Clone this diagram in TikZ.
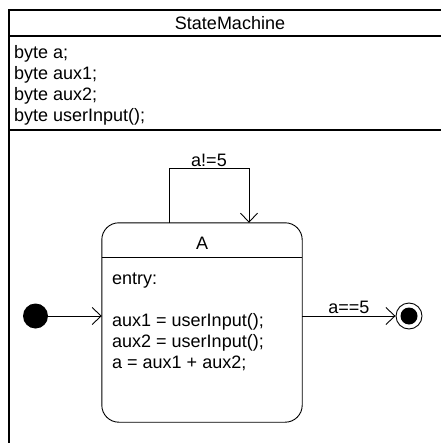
\documentclass[tikz,border=0pt]{standalone}
\usepackage{fontspec}
\setmainfont{Liberation Sans}
\usetikzlibrary{arrows.meta}

\begin{document}
\begin{tikzpicture}[x=1pt,y=-1pt,
  every node/.style={font=\fontsize{18}{21}\selectfont},
  trans/.style={-{Straight Barb[length=9pt,width=17pt]},line width=0.9pt},
  statebox/.style={inner sep=0pt,minimum width=200pt,minimum height=199pt},
  initial/.style={circle,fill,inner sep=0pt,minimum size=25pt},
  final/.style={circle,draw,line width=0.9pt,inner sep=0pt,minimum size=26pt},
  plain/.style={inner sep=0pt,align=left,anchor=north west}]
\useasboundingbox (0,0) rectangle (440,443);
% class frame
\draw[line width=2.2pt] (9,470) -- (9,10) -- (460,10);
\draw[line width=1.3pt] (9,36) -- (460,36);
\draw[line width=1.3pt] (9,130) -- (460,130);
\node (title) at (230,23) {StateMachine};
\node[plain] (attrs) at (14,45) {byte a;\\byte aux1;\\byte aux2;\\byte userInput();};
% states
\node[statebox] (A) at (202,322.5) {};
\draw[line width=0.9pt,rounded corners=17pt] (A.north west) rectangle (A.south east);
\node (Aname) at (202,243) {A};
\draw[line width=0.9pt] ([yshift=-35pt]A.north west) -- ([yshift=-35pt]A.north east);
\node[plain] (Abody) at (112,273) {entry:\\ \\aux1 = userInput();\\aux2 = userInput();\\a = aux1 + aux2;};
\node[initial] (I) at (35.5,316) {};
\node[final] (F) at (409,316) {};
\fill (F.center) circle (8.5pt);
% transitions
\draw[trans] (I) -- (I -| A.west);
\draw[trans] (A.east |- F) -- node[above,inner sep=2pt] {a==5} (F);
\draw[trans] ([xshift=-33pt]A.north) -- ++(0,-54) -| node[pos=0.25,above,inner sep=2pt] {a!=5} ([xshift=47pt]A.north);
\end{tikzpicture}
\end{document}
